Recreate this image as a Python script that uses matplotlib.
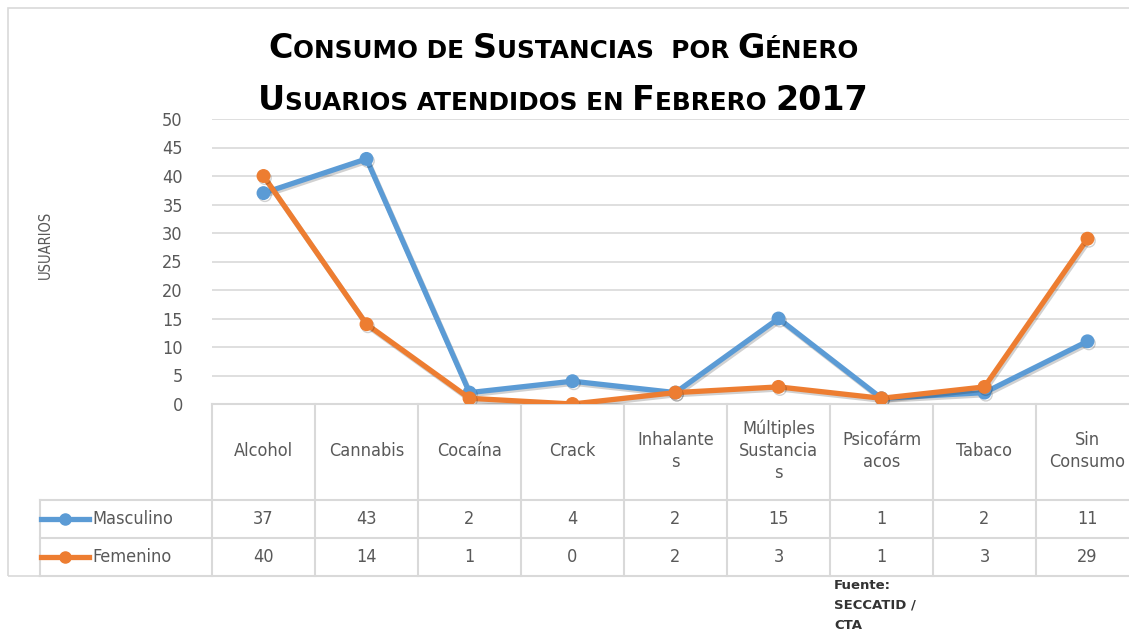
import matplotlib
matplotlib.use("Agg")
import matplotlib.pyplot as plt
import matplotlib.patheffects as pe
from matplotlib.transforms import blended_transform_factory

# data
categories = ["Alcohol", "Cannabis", "Cocaína", "Crack", "Inhalante\ns",
              "Múltiples\nSustancia\ns", "Psicofárm\nacos", "Tabaco", "Sin\nConsumo"]
masculino = [37, 43, 2, 4, 2, 15, 1, 2, 11]
femenino = [40, 14, 1, 0, 2, 3, 1, 3, 29]
series_names = ["Masculino", "Femenino"]
colors = ["#5b9bd5", "#ed7d31"]
yticks = [0, 5, 10, 15, 20, 25, 30, 35, 40, 45, 50]

W, H = 1129, 635
fig = plt.figure(figsize=(W / 100, H / 100), dpi=100)
fig.patch.set_facecolor("white")

def fx(px):
    return px / W

def fy(py):
    return 1 - py / H

grid_c = "#d9d9d9"
text_c = "#595959"
cond = dict(family="DejaVu Sans", stretch="condensed")

# outer chart border
fig.add_artist(plt.Rectangle((fx(8), fy(576)), fx(1200), (576 - 8) / H,
                             transform=fig.transFigure, fill=False,
                             edgecolor=grid_c, lw=1.2))

ax = fig.add_axes([fx(212), fy(404), 927 / W, (404 - 119) / H])
ax.set_xlim(-0.5, len(categories) - 0.5)
ax.set_ylim(0, 50)
ax.set_yticks(yticks)
ax.set_xticks([])
for s in ax.spines.values():
    s.set_visible(False)
ax.yaxis.grid(True, color=grid_c, lw=1.2)
ax.set_axisbelow(True)
ax.tick_params(axis="y", length=0, pad=21, labelsize=13, labelcolor=text_c)
for lab in ax.get_yticklabels():
    lab.set_fontstretch("condensed")

x = list(range(len(categories)))
shadow = [pe.SimpleLineShadow(offset=(1, -1.5), alpha=0.18, shadow_color="black"), pe.Normal()]
for vals, c in zip([masculino, femenino], colors):
    ax.plot(x, vals, color=c, lw=3.8, marker="o", ms=9, zorder=3,
            path_effects=shadow)

fig.text(fx(38), fy(245), "USUARIOS", rotation=90, va="center", ha="left",
         fontsize=10.5, color=text_c, **cond)

# data table
tr = blended_transform_factory(ax.transData, fig.transFigure)
ncol = len(categories)
left_edge = -0.5
right_edge = ncol - 0.5
legend_left = fx(40)
ax.plot([left_edge, right_edge], [fy(404)] * 2, color=grid_c, lw=1.5,
        transform=tr, clip_on=False)
for yy in [500, 538, 576]:
    fig.add_artist(plt.Line2D([legend_left, 2], [fy(yy)] * 2, color=grid_c, lw=1.5,
                              transform=fig.transFigure))
fig.add_artist(plt.Line2D([legend_left] * 2, [fy(500), fy(576)], color=grid_c,
                          lw=1.5, transform=fig.transFigure))
for i in range(ncol + 1):
    ax.plot([i - 0.5] * 2, [fy(404), fy(576)], color=grid_c, lw=1.5,
            transform=tr, clip_on=False)

for i, cat in enumerate(categories):
    ax.text(i, fy(451), cat, transform=tr, ha="center", va="center",
            fontsize=13, color=text_c, linespacing=1.3, **cond)
for row, (name, vals, c) in enumerate(zip(series_names, [masculino, femenino], colors)):
    ycen = fy(519 + row * 38)
    for i, v in enumerate(vals):
        ax.text(i, ycen, str(v), transform=tr, ha="center", va="center",
                fontsize=13, color=text_c, **cond)
    fig.add_artist(plt.Line2D([fx(41), fx(65), fx(89)], [ycen] * 3, color=c, lw=3.8,
                              marker="o", markevery=[1], ms=8,
                              transform=fig.transFigure))
    fig.text(fx(92), ycen, name, ha="left", va="center", fontsize=13,
             color=text_c, **cond)

# title in small caps
def small_caps_line(parts, xc, ybase, big=24, small=17.8):
    r = fig.canvas.get_renderer()
    objs = []
    for txt, is_big in parts:
        t = fig.text(0, fy(ybase), txt, fontsize=big if is_big else small,
                     fontweight="bold", color="black", va="baseline", ha="left",
                     family="DejaVu Sans")
        objs.append(t)
    widths = [t.get_window_extent(r).width for t in objs]
    total = sum(widths)
    xpos = xc - total / 2
    for t, w in zip(objs, widths):
        t.set_x(fx(xpos))
        xpos += w

title1 = [("C", True), ("ONSUMO DE ", False), ("S", True), ("USTANCIAS  POR ", False),
          ("G", True), ("ÉNERO", False)]
title2 = [("U", True), ("SUARIOS ATENDIDOS EN ", False), ("F", True), ("EBRERO ", False),
          ("2017", True)]
small_caps_line(title1, 564, 58)
small_caps_line(title2, 563, 110)

fig.text(fx(834), fy(579), "Fuente:\nSECCATID /\nCTA", ha="left", va="top",
         fontsize=9.5, fontweight="bold", fontstretch="normal", color="#333333",
         linespacing=1.7, family="DejaVu Sans")

fig.savefig("out.png", dpi=100)
